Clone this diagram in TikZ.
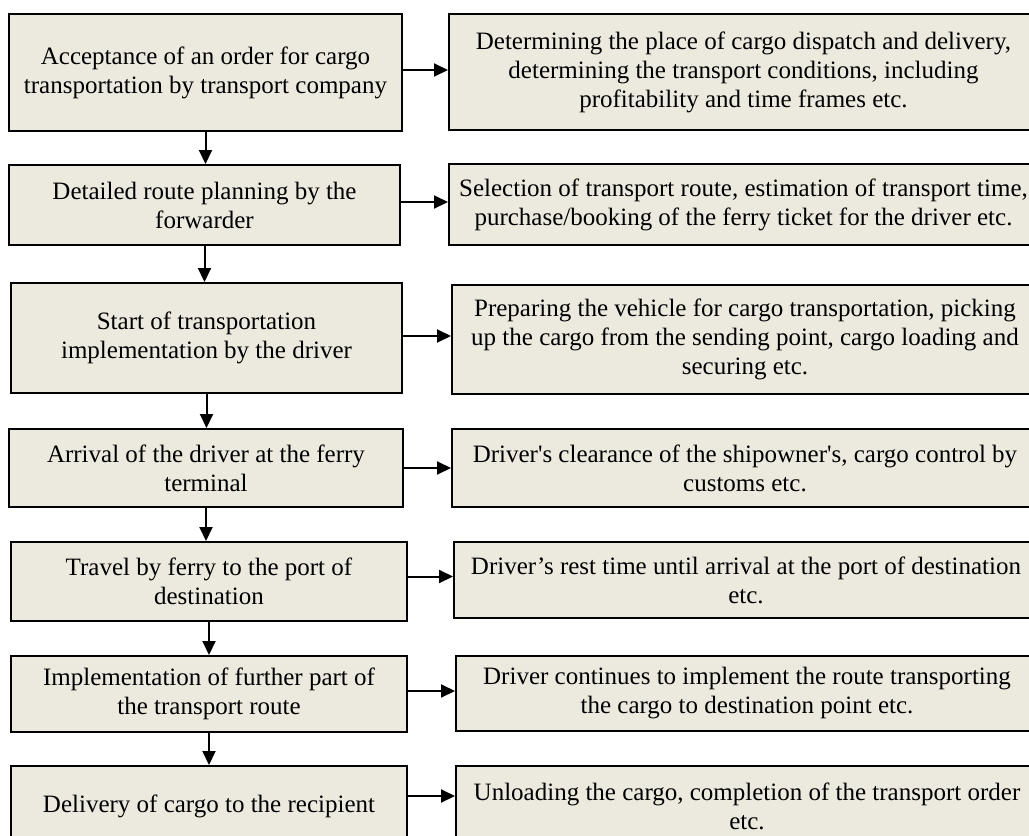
\documentclass[tikz,border=0pt]{standalone}
\usepackage{fontspec}
\setmainfont{Liberation Serif}[Ligatures=TeXOff]
\usetikzlibrary{arrows.meta}
\definecolor{boxfill}{HTML}{ECE9DF}

\begin{document}
\begin{tikzpicture}[x=1pt,y=-1pt,
  stage/.style={draw,line width=2pt,fill=boxfill,inner sep=0pt,align=center,
    font=\fontsize{25}{29}\selectfont},
  flow/.style={line width=2pt,-{Triangle[length=14pt,width=13pt]}}]
\clip (0,0) rectangle (1029,836);

% left column: stages
\node[stage,minimum width=393pt,minimum height=117pt] (l1) at (205.5,72.5)
  {Acceptance of an order for cargo\\transportation by transport company};
\node[stage,minimum width=391pt,minimum height=80pt] (l2) at (204.5,205)
  {Detailed route planning by the\\forwarder};
\node[stage,minimum width=391pt,minimum height=110pt] (l3) at (206.5,338)
  {Start of transportation\\implementation by the driver};
\node[stage,minimum width=394pt,minimum height=78pt] (l4) at (206,468)
  {Arrival of the driver at the ferry\\terminal};
\node[stage,minimum width=396pt,minimum height=79pt] (l5) at (209,581.5)
  {Travel by ferry to the port of\\destination};
\node[stage,minimum width=396pt,minimum height=76pt] (l6) at (209,694)
  {Implementation of further part of\\the transport route};
\node[stage,minimum width=396pt,minimum height=80pt] (l7) at (209,806)
  {Delivery of cargo to the recipient};

% right column: details
\node[stage,minimum width=589pt,minimum height=116pt] (r1) at (743.5,72)
  {Determining the place of cargo dispatch and delivery,\\determining the transport conditions, including\\profitability and time frames etc.};
\node[stage,minimum width=589pt,minimum height=81pt] (r2) at (743.5,204.5)
  {Selection of transport route, estimation of transport time,\\purchase/booking of the ferry ticket for the driver etc.};
\node[stage,minimum width=586pt,minimum height=109pt] (r3) at (745,339.5)
  {Preparing the vehicle for cargo transportation, picking\\up the cargo from the sending point, cargo loading and\\securing etc.};
\node[stage,minimum width=586pt,minimum height=78pt] (r4) at (745,468)
  {Driver's clearance of the shipowner's, cargo control by\\customs etc.};
\node[stage,minimum width=584pt,minimum height=76pt] (r5) at (746,580)
  {Driver’s rest time until arrival at the port of destination\\etc.};
\node[stage,minimum width=582pt,minimum height=75pt] (r6) at (747,693.5)
  {Driver continues to implement the route transporting\\the cargo to destination point etc.};
\node[stage,minimum width=582pt,minimum height=80pt] (r7) at (747,806)
  {Unloading the cargo, completion of the transport order\\etc.};

% vertical arrows
\draw[flow] (l1.south) -- (l1.south |- l2.north);
\draw[flow] (l2.south) -- (l2.south |- l3.north);
\draw[flow] (l3.south) -- (l3.south |- l4.north);
\draw[flow] (l4.south) -- (l4.south |- l5.north);
\draw[flow] (l5.south) -- (l5.south |- l6.north);
\draw[flow] (l6.south) -- (l6.south |- l7.north);

% horizontal arrows
\draw[flow] ([yshift=2.5pt]l1.east) -- ([yshift=2.5pt]l1.east -| r1.west);
\draw[flow] ([yshift=3pt]l2.east) -- ([yshift=3pt]l2.east -| r2.west);
\draw[flow] ([yshift=2pt]l3.east) -- ([yshift=2pt]l3.east -| r3.west);
\draw[flow] (l4.east) -- (l4.east -| r4.west);
\draw[flow] ([yshift=5pt]l5.east) -- ([yshift=5pt]l5.east -| r5.west);
\draw[flow] ([yshift=3pt]l6.east) -- ([yshift=3pt]l6.east -| r6.west);
\draw[flow] ([yshift=10pt]l7.east) -- ([yshift=10pt]l7.east -| r7.west);
\end{tikzpicture}
\end{document}
